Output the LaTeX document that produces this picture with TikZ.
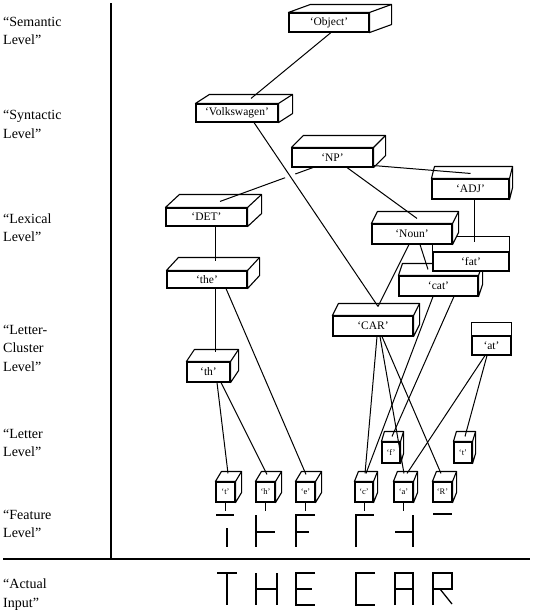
\documentclass[tikz,border=0pt]{standalone}
\usepackage{fontspec}
\setmainfont{Liberation Serif}
\usetikzlibrary{calc}
\pgfdeclarelayer{paper}
\pgfdeclarelayer{under}
\pgfsetlayers{paper,under,main}
\tikzset{
  face/.style={draw, fill=white, line width=1.1pt, inner sep=0pt},
  boxline/.style={line width=1.1pt, line join=round},
  bigtxt/.style={font=\fontsize{11.5}{13}\selectfont},
  smalltxt/.style={font=\fontsize{8.5}{10}\selectfont},
  conn/.style={line width=1pt},
  seg/.style={line width=1.3pt},
  lvl/.style={anchor=west, align=left, inner sep=0pt, font=\fontsize{14}{18.5}\selectfont},
}
% name, style, cx, cy, w, h, dx, dy, text
\newcommand\cubebox[9]{%
  \node[face,#2,minimum width=#5pt,minimum height=#6pt] (#1) at (#3,#4) {#9};
  \filldraw[boxline,fill=white] (#1.north west) -- ++(#7,#8)
     -- ([shift={(#7,#8)}]#1.north east) -- ([shift={(#7,#8)}]#1.south east)
     -- (#1.south east) -- (#1.north east) -- cycle;
  \draw[boxline] (#1.north east) -- ++(#7,#8);
}
\begin{document}
\begin{tikzpicture}[x=1pt,y=-1pt]
\begin{pgfonlayer}{paper}
\fill[white] (0,0) rectangle (533,616);
\end{pgfonlayer}
\useasboundingbox (0,0) rectangle (533,616);

% frame
\draw[line width=1.4pt] (111,3) coordinate (vtop) -- (111,559) coordinate (vbot);
\draw[line width=1.4pt] (3,559) coordinate (hl) -- (530,559) coordinate (hr);

% level labels
\node[lvl] (lsem) at (3,31) {“Semantic\\Level”};
\node[lvl] (lsyn) at (3,124.5) {“Syntactic\\Level”};
\node[lvl] (llex) at (3,227.5) {“Lexical\\Level”};
\node[lvl] (lclu) at (3,348) {“Letter-\\Cluster\\Level”};
\node[lvl] (llet) at (3,443) {“Letter\\Level”};
\node[lvl] (lfea) at (3,524) {“Feature\\Level”};
\node[lvl] (lact) at (3,594.5) {“Actual\\Input”};

% boxes
\cubebox{obj}{bigtxt}{329}{22.5}{80}{19}{22}{-8}{‘Object’}
\cubebox{vw}{bigtxt}{237}{113}{82}{18}{14}{-9}{‘Volkswagen’}
\cubebox{np}{bigtxt}{332.5}{157.5}{81}{19}{12}{-12}{‘NP’}
\cubebox{adj}{bigtxt}{470.5}{189}{77}{20}{3}{-12}{‘ADJ’}
\cubebox{det}{bigtxt}{206.5}{217}{81}{18}{14}{-13}{‘DET’}
\cubebox{the}{bigtxt}{207}{279.5}{80}{17}{12}{-13}{‘the’}
\cubebox{cat}{bigtxt}{438.5}{286}{79}{20}{4}{-12}{‘cat’}
\cubebox{fat}{bigtxt}{471}{261.5}{76}{19}{0}{-15}{‘fat’}
\cubebox{noun}{bigtxt}{412}{234}{80}{20}{6}{-12}{‘Noun’}
\cubebox{car}{bigtxt}{373}{326}{80}{20}{6}{-12}{‘CAR’}
\cubebox{at}{bigtxt}{491.5}{345.5}{39}{19}{0}{-13}{‘at’}
\cubebox{th}{bigtxt}{208.5}{372}{43}{20}{8}{-12}{‘th’}
\cubebox{f}{smalltxt}{391}{452.5}{18}{21}{3}{-10}{‘f’}
\cubebox{t2}{smalltxt}{463}{452.5}{18}{21}{3}{-10}{‘t’}
\cubebox{lt}{smalltxt}{225.5}{492}{19}{20}{6}{-10}{‘t’}
\cubebox{lh}{smalltxt}{265.5}{492}{19}{20}{6}{-10}{‘h’}
\cubebox{le}{smalltxt}{305.5}{492}{19}{20}{6}{-10}{‘e’}
\cubebox{lc}{smalltxt}{364}{492}{18}{20}{4}{-10}{‘c’}
\cubebox{la}{smalltxt}{403.5}{492}{19}{20}{4}{-10}{‘a’}
\cubebox{lR}{smalltxt}{442.5}{492}{19}{20}{4}{-10}{‘R’}

% connectors
\draw[conn] ([shift={(2,0)}]obj.south) -- ([shift={(14,-5)}]vw.north);
\draw[conn] ([shift={(17,0)}]vw.south) -- ([shift={(5,-9)}]car.north);
\draw[conn] ([shift={(-3,0)}]noun.south) -- ([shift={(5,-9)}]car.north);
\coordinate (ndA) at ([shift={(-19.5,0)}]np.south);
\coordinate (ndB) at ([shift={(13.5,-6)}]det.north);
\draw[conn] (ndA) -- ($(ndA)!0.19!(ndB)$);
\draw[conn] ($(ndA)!0.30!(ndB)$) -- (ndB);
\draw[conn] ([shift={(0,-2)}]np.south east) -- ([shift={(0,-5)}]adj.north);
\draw[conn] ([shift={(14.5,0)}]np.south) -- ([shift={(5,-5)}]noun.north);
\draw[conn] ([shift={(8.5,0)}]det.south) -- ([shift={(8,-9)}]the.north);
\draw[conn] ([shift={(3.5,0)}]adj.south) -- ([shift={(3,-9)}]fat.north);
\draw[conn] ([shift={(8,0)}]noun.south) -- ([shift={(-10.5,-6)}]cat.north);
\draw[conn] ([shift={(8,0)}]the.south) -- ([shift={(6.5,-9)}]th.north);
\draw[conn] ([shift={(19,0)}]the.south) -- ([shift={(0.5,-7)}]le.north);
\draw[conn] ([shift={(8.5,0)}]th.south) -- ([shift={(2.5,-8)}]lt.north);
\draw[conn] ([shift={(12.5,0)}]th.south) -- ([shift={(1.5,-7)}]lh.north);
\draw[conn] ([shift={(4,0)}]car.south) -- ([shift={(1,-8)}]lc.north);
\draw[conn] ([shift={(7,0)}]car.south) -- ([shift={(0.5,-8)}]la.north);
\draw[conn] ([shift={(9,0)}]car.south) -- ([shift={(-1.5,-8)}]lR.north);
\draw[conn] ([shift={(-5.5,0)}]cat.south) -- ([shift={(2,-8)}]lc.north);
% fat -> f runs behind the 'cat' box
\coordinate (ffA) at ([shift={(-6,0)}]fat.south);
\coordinate (ffB) at ([shift={(1,-5)}]f.north);
\begin{pgfonlayer}{under}
\draw[conn] (ffA) -- ($(ffA)!0.2!(ffB)$);
\end{pgfonlayer}
\draw[conn] ($(ffA)!0.2!(ffB)$) -- (ffB);
\draw[conn] ([shift={(-6.5,0)}]at.south) -- ([shift={(3.5,-8)}]la.north);
\draw[conn] ([shift={(-4.5,0)}]at.south) -- ([shift={(2,-5)}]t2.north);

% ticks to features
\foreach \n in {lt,lh,le,lc,la}
  \draw[conn] (\n.south) -- ([shift={(0,8)}]\n.south);

% feature level
\draw[seg] (216,515) -- (234,515);
\draw[seg] (227,528) -- (227,547);
\draw[seg] (256,515) -- (256,547);
\draw[seg] (256,532) -- (275,532);
\draw[seg] (315,515) -- (296,515) -- (296,547);
\draw[seg] (296,532) -- (309,532);
\draw[seg] (356,547) -- (356,515) -- (374,515);
\draw[seg] (395,532) -- (413,532);
\draw[seg] (413,515) -- (413,547);
\draw[seg] (433,514) -- (452,514);

% actual input THE CAR
\draw[seg] (217,573) -- (237,573);
\draw[seg] (227,573) -- (227,605);
\draw[seg] (256,573) -- (256,605);
\draw[seg] (277,573) -- (277,605);
\draw[seg] (256,589) -- (277,589);
\draw[seg] (315,573) -- (296,573) -- (296,605) -- (315,605);
\draw[seg] (296,589) -- (312,589);
\draw[seg] (375,573) -- (356,573) -- (356,605) -- (375,605);
\draw[seg] (395,605) -- (395,573) -- (413,573) -- (413,605);
\draw[seg] (395,589) -- (413,589);
\draw[seg] (433,605) -- (433,573) -- (452,573) -- (452,589) -- (433,589);
\draw[seg] (440,589) -- (452,604);
\end{tikzpicture}
\end{document}
